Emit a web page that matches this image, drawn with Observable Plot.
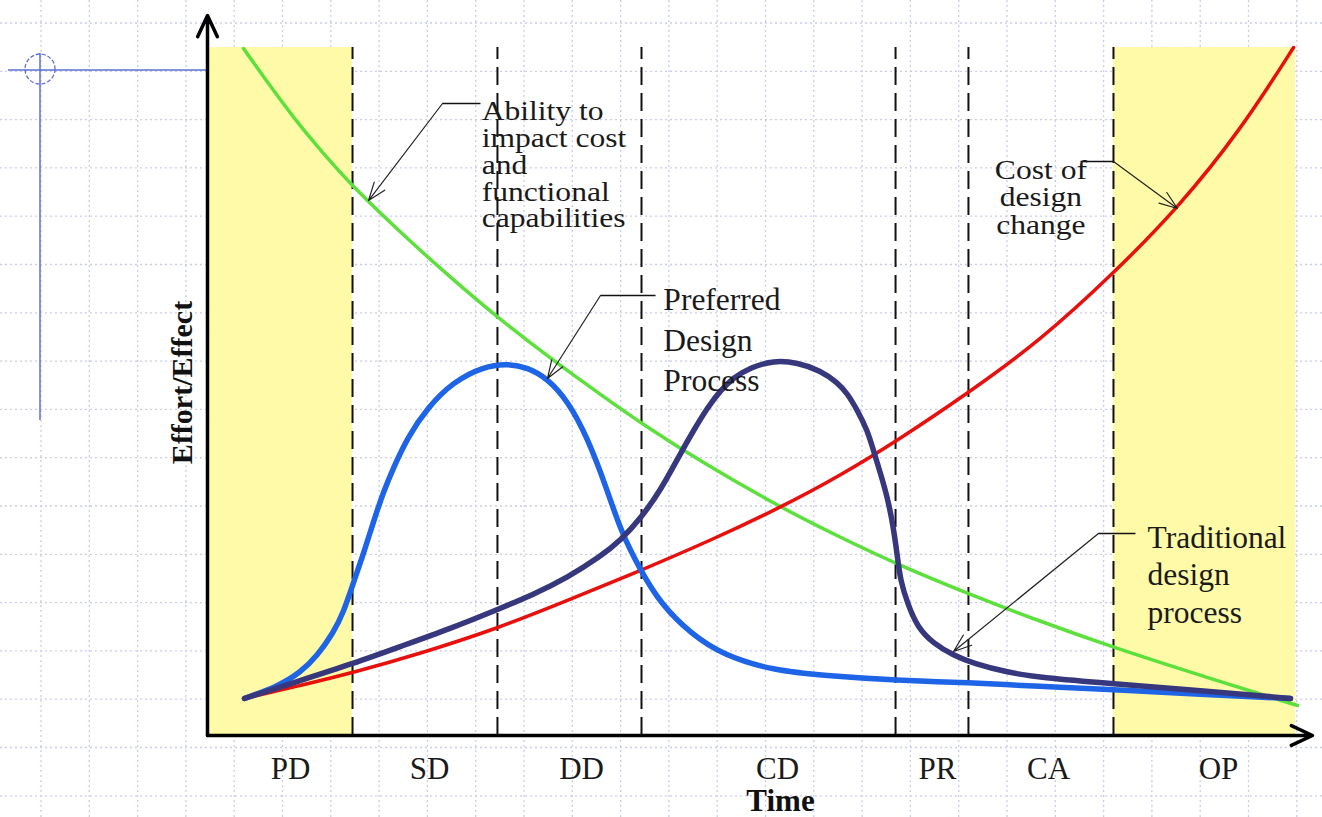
<!DOCTYPE html>
<html><head><meta charset="utf-8">
<script src="https://cdn.jsdelivr.net/npm/d3@7"></script>
<script src="https://cdn.jsdelivr.net/npm/@observablehq/plot@0.6"></script>
<style>
html,body{margin:0;padding:0;background:#fff;overflow:hidden;}
#wrap{position:relative;width:1322px;height:817px;}
#bg,#chart{position:absolute;left:0;top:0;}
</style></head>
<body><div id="wrap"><svg id="bg" width="1322" height="817"></svg><div id="chart"></div></div>
<script>
// ---- data (time 0-100, effort/effect 0-100) ----
const phaseNames = ["PD", "SD", "DD", "CD", "PR", "CA", "OP"];
const phaseMid = [7.63, 20.40, 34.38, 52.39, 67.10, 77.30, 92.92];
const phaseBounds = [13.33, 26.65, 39.89, 63.24, 69.94, 83.27];
const shadedStart = [0, 83.27];
const shadedEnd = [13.33, 100];

const abilityToImpact = [[3.31,99.85],[5.79,94.33],[7.90,89.83],[10.39,85.03],[13.42,79.65],[17.74,73.11],[22.33,66.57],[26.65,60.76],[31.53,54.80],[36.12,49.56],[39.89,45.35],[45.31,39.83],[52.67,33.14],[58.18,28.78],[63.42,24.85],[69.85,20.64],[76.56,16.57],[83.00,12.94],[91.27,8.72],[100.18,4.36]];
const costOfChange = [[3.40,5.38],[8.55,7.27],[13.42,9.16],[19.58,11.92],[26.65,15.55],[33.09,19.62],[39.80,23.98],[46.23,28.34],[52.67,33.14],[58.18,37.79],[63.42,42.88],[69.85,49.71],[76.56,57.41],[83.27,67.15],[89.15,76.60],[94.94,87.94],[99.82,100.0]];
const preferredProcess = [[3.40,5.38],[6.43,7.12],[8.55,9.16],[10.11,11.63],[11.58,14.97],[12.50,17.88],[13.42,22.24],[14.34,26.45],[15.26,31.10],[16.18,35.47],[17.10,38.95],[18.38,43.31],[20.22,47.67],[22.61,51.45],[25.37,53.63],[27.57,54.07],[29.41,53.49],[31.25,51.89],[33.09,48.69],[34.93,43.31],[36.76,35.61],[37.96,29.80],[39.80,23.98],[41.64,19.19],[44.39,14.83],[47.43,11.63],[52.02,9.45],[56.62,8.72],[63.42,7.99],[69.85,7.70],[76.56,7.12],[83.00,6.69],[91.27,5.96],[99.54,5.38]];
const traditionalProcess = [[3.40,5.38],[8.55,7.99],[13.42,10.47],[17.74,12.94],[22.33,15.55],[26.65,18.31],[29.96,20.49],[33.09,22.97],[36.12,26.02],[37.96,28.34],[39.80,31.54],[41.64,35.61],[43.47,40.99],[44.67,44.33],[45.96,47.67],[47.15,50.15],[48.35,52.03],[49.91,53.49],[52.02,54.51],[54.23,54.22],[56.34,53.05],[57.90,51.31],[58.82,49.71],[59.74,47.24],[60.66,44.33],[61.21,41.42],[61.86,38.08],[62.50,34.59],[63.05,30.23],[63.42,25.87],[63.69,22.53],[64.34,19.19],[65.26,15.70],[66.73,13.37],[68.57,11.63],[70.40,10.47],[73.53,9.16],[76.56,8.43],[83.00,7.56],[91.27,6.54],[99.54,5.38]];

const noteLabels = ["Ability to\nimpact cost\nand\nfunctional\ncapabilities", "Preferred\nDesign\nProcess", "Cost of\ndesign\nchange", "Traditional\ndesign\nprocess"];
const noteX = [25.2, 41.9, 76.6, 86.4];
const noteY = [92.15, 65.9, 83.8, 31.2];
const leaderX1 = [21.60, 36.12, 80.24, 81.89];
const leaderX2 = [25.09, 41.18, 83.27, 85.29];
const leaderY = [91.86, 63.95, 83.43, 29.36];
const pointerFromX = [21.60, 36.12, 83.27, 81.89];
const pointerToX = [14.80, 31.25, 89.15, 68.57];
const pointerToY = [77.76, 51.89, 76.60, 12.21];
const axisEndX = [0, 101.56];
const axisEndY = [104.65, 0];

// ---- background (paper grid + stray guide) ----
const bg = d3.select("#bg");
for (let x = 41; x < 1322; x += 48.3) bg.append("line").attr("x1", x).attr("x2", x).attr("y1", 0).attr("y2", 817)
  .attr("stroke", "#c9cde8").attr("stroke-width", 1.3).attr("stroke-dasharray", "2,3");
for (let y = 23; y < 817; y += 48.3) bg.append("line").attr("y1", y).attr("y2", y).attr("x1", 0).attr("x2", 1322)
  .attr("stroke", "#c9cde8").attr("stroke-width", 1.3).attr("stroke-dasharray", "2,3");
bg.append("line").attr("x1", 8).attr("x2", 207).attr("y1", 70).attr("y2", 70).attr("stroke", "#5b6fd2").attr("stroke-width", 1.5);
bg.append("line").attr("x1", 40).attr("x2", 40).attr("y1", 53).attr("y2", 420).attr("stroke", "#5b6fd2").attr("stroke-width", 1.5);
bg.append("circle").attr("cx", 40).attr("cy", 69).attr("r", 15).attr("fill", "none").attr("stroke", "#5b6fd2").attr("stroke-width", 1.3).attr("stroke-dasharray", "4,2");

// ---- chart ----
const serif = "Liberation Serif, Times New Roman, serif";
const shaded = shadedStart.map((s, i) => ({s, e: shadedEnd[i]}));
const phases = phaseNames.map((name, i) => ({name, mid: phaseMid[i]}));
const notes = noteLabels.map((label, i) => ({label, x: noteX[i], y: noteY[i]}));
const leaders = leaderY.map((y, i) => ({x1: leaderX1[i], x2: leaderX2[i], y}));
const pointers = leaderY.map((y, i) => ({x1: pointerFromX[i], y1: y, x2: pointerToX[i], y2: pointerToY[i]}));
const axes = axisEndX.map((x, i) => ({x2: x, y2: axisEndY[i]}));
const pt = {x: d => d[0], y: d => d[1], curve: "basis", strokeLinecap: "round", strokeLinejoin: "round"};
const noteStyle = {x: "x", y: "y", text: "label", lineAnchor: "top", fill: "#1a1a1a", fontFamily: serif};

const chart = Plot.plot({
  width: 1322, height: 817,
  marginLeft: 207, marginRight: 27, marginTop: 47, marginBottom: 82,
  x: {domain: [0, 100], axis: null},
  y: {domain: [0, 100], axis: null},
  style: {background: "transparent", fontFamily: serif},
  marks: [
    Plot.rect(shaded, {x1: "s", x2: "e", y1: 0, y2: 100, fill: "#fffaa8"}),
    Plot.ruleX(phaseBounds, {y1: 0, y2: 100, stroke: "#111", strokeWidth: 2, strokeDasharray: "18,8"}),
    Plot.line(abilityToImpact, {...pt, stroke: "#5ce03c", strokeWidth: 3.5}),
    Plot.line(costOfChange, {...pt, stroke: "#e8100c", strokeWidth: 3.5}),
    Plot.line(preferredProcess, {...pt, stroke: "#1e64e6", strokeWidth: 5.5}),
    Plot.line(traditionalProcess, {...pt, stroke: "#37377d", strokeWidth: 5.5}),
    Plot.arrow(axes, {x1: 0, y1: 0, x2: "x2", y2: "y2", stroke: "black", strokeWidth: 3.5, headLength: 10, headAngle: 50}),
    Plot.link(leaders, {x1: "x1", x2: "x2", y1: "y", y2: "y", stroke: "#111", strokeWidth: 1.5}),
    Plot.arrow(pointers, {x1: "x1", y1: "y1", x2: "x2", y2: "y2", stroke: "#222", strokeWidth: 1.2, headLength: 24, headAngle: 40}),
    Plot.text(notes.filter((d, i) => i === 0), {...noteStyle, textAnchor: "start", fontSize: 27, lineHeight: 0.99}),
    Plot.text(notes.filter((d, i) => i === 2), {...noteStyle, textAnchor: "middle", fontSize: 27, lineHeight: 1.02}),
    Plot.text(notes.filter((d, i) => i === 1), {...noteStyle, textAnchor: "start", fontSize: 31.5, lineHeight: 1.27}),
    Plot.text(notes.filter((d, i) => i === 3), {...noteStyle, textAnchor: "start", fontSize: 31.5, lineHeight: 1.2}),
    Plot.text(phases, {x: "mid", text: "name", frameAnchor: "bottom", dy: 34, lineAnchor: "middle", fontSize: 31, fill: "#1a1a1a", fontFamily: serif}),
    Plot.text(["Time"], {frameAnchor: "bottom", dx: 29, dy: 66, lineAnchor: "middle", fontSize: 31, fontWeight: "bold", fill: "#111", fontFamily: serif}),
    Plot.text(["Effort/Effect"], {frameAnchor: "left", dx: -25, dy: -9, rotate: -90, lineAnchor: "middle", textAnchor: "middle", fontSize: 30, fontWeight: "bold", fill: "#111", fontFamily: serif})
  ]
});
document.getElementById("chart").appendChild(chart);
// the two smaller callouts are set horizontally stretched in the reference
d3.select(chart).selectAll("text").filter(function () {
  const t = this.textContent;
  return t.startsWith("Ability to") || t.startsWith("Cost of");
}).each(function () {
  const tr = this.getAttribute("transform") || "";
  this.setAttribute("transform", tr + " scale(1.17,1)");
});
</script></body></html>
